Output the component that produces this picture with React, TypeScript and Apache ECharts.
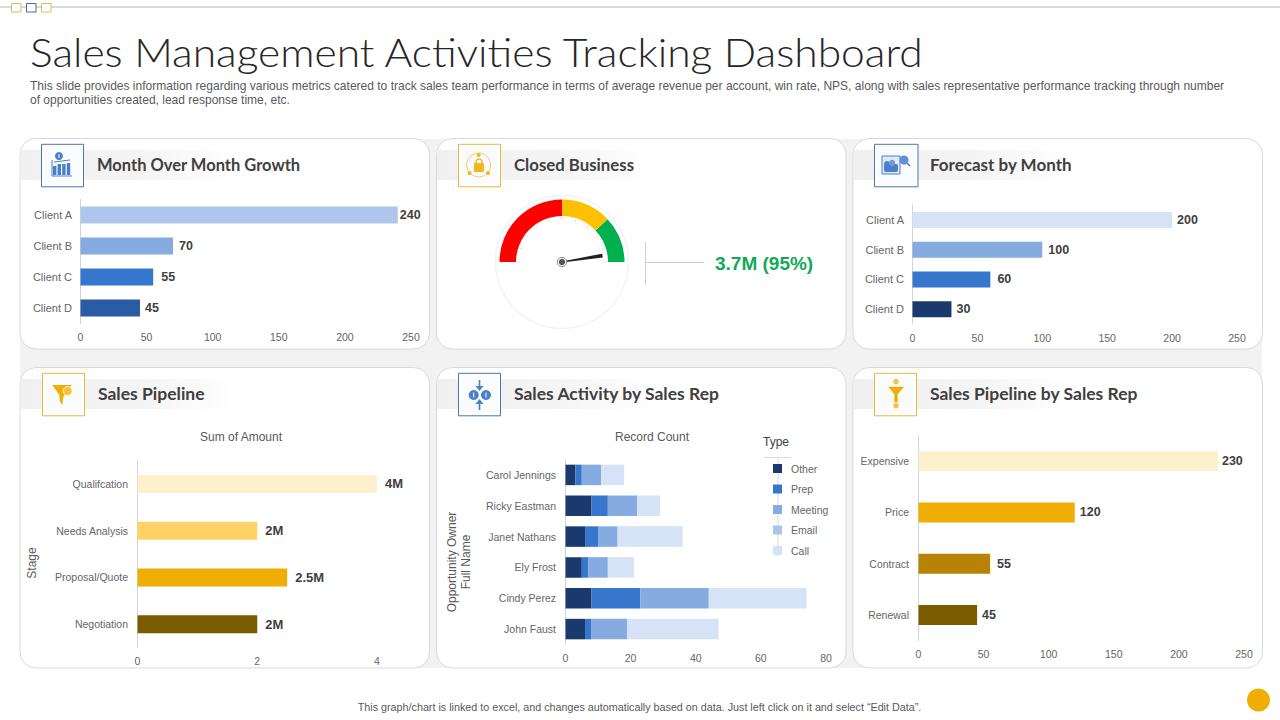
import React, { useEffect, useRef } from "react";
import * as echarts from "echarts";

const clients = ["Client A", "Client B", "Client C", "Client D"];
const momValues = [240, 70, 55, 45];
const momColors = ["#aec6eb", "#86abe0", "#3776cd", "#2a5ba5"];
const forecastValues = [200, 100, 60, 30];
const forecastColors = ["#d6e2f5", "#86abe0", "#3776cd", "#1a3a6e"];
const stages = ["Qualifcation", "Needs Analysis", "Proposal/Quote", "Negotiation"];
const stageValues = [4, 2, 2.5, 2];
const stageColors = ["#fdf0cd", "#ffd265", "#f0ae04", "#7b5b00"];
const reasons = ["Expensive", "Price", "Contract", "Renewal"];
const reasonValues = [230, 120, 55, 45];
const reasonColors = ["#fdf0cd", "#f0ae04", "#b88304", "#7b5b00"];
const reps = ["Carol Jennings", "Ricky Eastman", "Janet Nathans", "Ely Frost", "Cindy Perez", "John Faust"];
const activityTypes = ["Other", "Prep", "Meeting", "Email", "Call"];
const activityColors = ["#1a3a6e", "#3776cd", "#86abe0", "#a9c3ea", "#d6e2f5"];
const otherValues = [3, 8, 6, 5, 8, 6];
const prepValues = [2, 5, 4, 2, 15, 2];
const meetingValues = [6, 9, 6, 6, 21, 11];
const emailValues = [0, 0, 0, 0, 0, 0];
const callValues = [7, 7, 20, 8, 30, 28];
const closedPercent = 95;
const gaugeBands: [number, string][] = [[0.5, "#ff0000"], [0.76, "#ffc000"], [1, "#00b050"]];

const TITLE = "Sales Management Activities Tracking Dashboard";
const SUB1 = "This slide provides information regarding various metrics catered to track sales team performance in terms of average revenue per account, win rate, NPS, along with sales representative performance tracking through number";
const SUB2 = "of opportunities created, lead response time, etc.";
const FOOT = "This graph/chart is linked to excel, and changes automatically based on data. Just left click on it and select \u201CEdit Data\u201D.";

const SANS = "'Liberation Sans', Arial, sans-serif";
const HEAD = "Lato, sans-serif";
const BLUE = "#4a80c8";
const GOLD = "#f0ae04";

function txt(text: string, x: number, y: number, size: number, fill: string, extra: any = {}) {
  return {
    type: "text", x, y, silent: true, z: 5,
    rotation: extra.rotation || 0,
    scaleX: extra.scaleX || 1,
    style: { text, x: 0, y: 0, fill, fontSize: size, fontFamily: extra.family || SANS, fontWeight: extra.weight || "normal", align: extra.align || "left", verticalAlign: "middle" },
  };
}
const rect = (x: number, y: number, w: number, h: number, style: any, r = 0, z = 1) => ({ type: "rect", z, silent: true, shape: { x, y, width: w, height: h, r }, style });
const circ = (cx: number, cy: number, r: number, style: any, z = 3) => ({ type: "circle", z, silent: true, shape: { cx, cy, r }, style });
const poly = (points: number[][], fill: string) => ({ type: "polygon", z: 3, silent: true, shape: { points }, style: { fill } });
const ln = (x1: number, y1: number, x2: number, y2: number, stroke: string, w = 1, z = 3) => ({ type: "line", z, silent: true, shape: { x1, y1, x2, y2 }, style: { stroke, lineWidth: w } });

function card(x: number, y: number, w: number, h: number, bandY: number, title: string, size: number, tx: number, boxX: number, boxY: number, boxW: number, border: string) {
  const band = {
    type: "linear", x: 0, y: 0, x2: 1, y2: 0,
    colorStops: [{ offset: 0, color: "#f0f0f0" }, { offset: 0.55, color: "#f4f4f4" }, { offset: 1, color: "#ffffff" }],
  };
  return [
    rect(x, y, w, h, { fill: "#fff", stroke: "#d9d9d9", lineWidth: 1 }, 16, 1),
    rect(x + 0.5, bandY, 215, 30, { fill: band }, 0, 2),
    rect(boxX, boxY, boxW, 42.5, { fill: "#fff", stroke: border, lineWidth: 1 }, 0, 2),
    rect(boxX + 3, boxY + 3, boxW - 6, 36.5, { fill: "#fafbfd" }, 0, 2),
    txt(title, tx, bandY + 14.5, size, "#404040", { family: HEAD, weight: 700 }),
  ];
}

const icons = [
  // growth chart
  rect(53, 166, 3.4, 9, { fill: BLUE }, 0, 3), rect(57.6, 164, 3.4, 11, { fill: BLUE }, 0, 3),
  rect(62.2, 164, 3.4, 11, { fill: BLUE }, 0, 3), rect(66.8, 163, 3.4, 12, { fill: BLUE }, 0, 3),
  ln(52, 176, 72, 176, BLUE), ln(52, 160, 52, 176, BLUE),
  circ(59, 156, 4, { fill: BLUE }), ln(59, 154, 59, 158, "#fff"),
  ln(54, 162, 70, 160, BLUE),
  // lock
  circ(478.7, 165, 12, { fill: "none", stroke: "#f3cf70", lineWidth: 1 }),
  rect(474, 163, 10, 9, { fill: "#f0b81e" }, 1, 3),
  circ(479, 162, 3, { fill: "none", stroke: "#f0b81e", lineWidth: 1.5 }),
  circ(478.7, 155, 2, { fill: "#f0b81e" }), circ(469.5, 173, 2, { fill: "#f0b81e" }), circ(488, 173, 2, { fill: "#f0b81e" }),
  // window, cloud and magnifier
  rect(882, 156, 18, 18, { fill: "#dfe9f7", stroke: BLUE, lineWidth: 1 }, 0, 3),
  rect(884, 164, 14, 8, { fill: BLUE }, 2, 3),
  circ(887, 164, 3, { fill: BLUE }), circ(892, 163, 3.2, { fill: "#6e9ad6" }),
  circ(904, 160, 4.5, { fill: "#5f90d6" }), ln(907, 163, 910, 166, BLUE, 1.5),
  // funnel with coin
  poly([[52.3, 385], [71.7, 385], [63.3, 396.7], [62.3, 405], [60, 401.7], [59.3, 395]], GOLD),
  circ(67.7, 391, 4.5, { fill: "#f5c33a", stroke: "#fff", lineWidth: 0.8 }),
  // converging dollars
  circ(473.7, 395, 5, { fill: BLUE }), circ(486, 395, 5, { fill: BLUE }),
  ln(473.7, 392.5, 473.7, 397.5, "#fff"), ln(486, 392.5, 486, 397.5, "#fff"),
  ln(479.5, 380, 479.5, 389, BLUE, 1.6), poly([[475.5, 386], [483.5, 386], [479.5, 391]], BLUE),
  ln(479.5, 401, 479.5, 410, BLUE, 1.6), poly([[475.5, 404], [483.5, 404], [479.5, 399]], BLUE),
  // funnel with dots
  poly([[888.3, 386.7], [904, 386.7], [897.7, 394.3], [897.7, 402.3], [894.3, 402.3], [894.3, 394.3]], GOLD),
  circ(896, 381.7, 2.8, { fill: "#f3c34a" }), circ(896, 405.7, 2.8, { fill: "#f3c34a" }),
];

const graphics = [
  ln(0, 7, 1280, 7, "#d9d9d9", 2, 0),
  rect(11.5, 3.5, 9.5, 8.5, { fill: "#fff", stroke: "#d9bf5a", lineWidth: 1 }, 0, 1),
  rect(26.5, 3.5, 9.5, 8.5, { fill: "#fff", stroke: "#3f6fa8", lineWidth: 1 }, 0, 1),
  rect(41.5, 3.5, 9.5, 8.5, { fill: "#fff", stroke: "#d9bf5a", lineWidth: 1 }, 0, 1),
  txt(TITLE, 30, 52, 38.5, "#262626", { family: HEAD, weight: 300, scaleX: 1.105 }),
  txt(SUB1, 30, 86, 12.03, "#595959"),
  txt(SUB2, 30, 100, 12.03, "#595959"),
  rect(20, 139, 1242, 529, { fill: "#f2f2f2" }, 16, 0),
  ...card(20, 138.5, 409.5, 210.5, 150, "Month Over Month Growth", 16.5, 97, 41.5, 144.3, 42, "#4a76a8"),
  ...card(436.5, 138.5, 409.5, 210.5, 150, "Closed Business", 16.8, 514, 458.5, 144.3, 42, "#e5b73b"),
  ...card(853, 138.5, 409.5, 210.5, 150, "Forecast by Month", 17, 930, 874.5, 144.3, 43.5, "#4a76a8"),
  ...card(20, 367.5, 409.5, 300.5, 379, "Sales Pipeline", 17.5, 98, 42.5, 373.3, 42, "#e5b73b"),
  ...card(436.5, 367.5, 409.5, 300.5, 379, "Sales Activity by Sales Rep", 17.5, 514, 458.5, 373.3, 42, "#4a76a8"),
  ...card(853, 367.5, 409.5, 300.5, 379, "Sales Pipeline by Sales Rep", 17.5, 930, 874.5, 373.3, 42, "#e5b73b"),
  ...icons,
  circ(562, 262, 66.5, { fill: "#fff", stroke: "#f3f3f3", lineWidth: 1.5 }, 2),
  circ(562, 262, 4.6, { fill: "#fff", stroke: "#888", lineWidth: 1 }, 20),
  circ(562, 262, 3.2, { fill: "#555" }, 21),
  ln(645.5, 242, 645.5, 285, "#cfcfcf"),
  ln(645.5, 262.5, 704, 262.5, "#cfcfcf"),
  txt("3.7M (95%)", 715, 263, 19, "#0fa958", { weight: "bold" }),
  txt("Sum of Amount", 241, 437, 12, "#595959", { align: "center" }),
  txt("Stage", 32, 563, 12, "#595959", { align: "center", rotation: Math.PI / 2 }),
  txt("Record Count", 652, 437, 12, "#595959", { align: "center" }),
  txt("Opportunity Owner", 452, 562, 12, "#595959", { align: "center", rotation: Math.PI / 2 }),
  txt("Full Name", 466, 562, 12, "#595959", { align: "center", rotation: Math.PI / 2 }),
  txt("Type", 776, 442, 12, "#404040", { align: "center" }),
  ln(764, 457.5, 791, 457.5, "#d9d9d9", 1, 3),
  ln(778, 457.5, 778, 556, "#d9d9d9", 1, 3),
  txt(FOOT, 639.5, 707, 10.75, "#595959", { align: "center" }),
  circ(1258.5, 700, 11.5, { fill: "#f0ae04" }),
];

const grids = [
  { left: 80.5, top: 199.5, width: 330.5, height: 124 },
  { left: 912.5, top: 205, width: 324.5, height: 119 },
  { left: 137.5, top: 460.5, width: 239.5, height: 187 },
  { left: 565.5, top: 459.5, width: 260.5, height: 185 },
  { left: 918.5, top: 435.5, width: 325.5, height: 205 },
];
const xAxisMax = [250, 250, 4, 80, 250];
const xAxisStep = [50, 50, 2, 20, 50];
const yCats = [clients, clients, stages, reps, reasons];
const yLabelSize = [11, 11, 10.5, 10.5, 10.5];
const yLabelMargin = [8.5, 8.5, 9.5, 9.5, 9.5];

function barSeries(i: number, values: number[], colors: string[], barWidth: number, distances: number[], size: number, fmt?: (p: any) => string) {
  return {
    type: "bar", z: 12, xAxisIndex: i, yAxisIndex: i, barWidth,
    data: values.map((value, k) => ({ value, itemStyle: { color: colors[k] }, label: { distance: distances[k] } })),
    label: { show: true, position: "right", color: "#404040", fontFamily: SANS, fontWeight: "bold", fontSize: size, formatter: fmt || "{c}" },
  };
}

const option: any = {
  animation: false,
  backgroundColor: "#ffffff",
  textStyle: { fontFamily: SANS },
  graphic: { elements: graphics },
  grid: grids,
  xAxis: grids.map((_, i) => ({
    type: "value", gridIndex: i, z: 10, min: 0, max: xAxisMax[i], interval: xAxisStep[i],
    splitLine: { show: false }, axisLine: { show: false }, axisTick: { show: false },
    axisLabel: { color: "#666666", fontSize: 10.5, margin: 8, fontFamily: SANS },
  })),
  yAxis: grids.map((_, i) => ({
    type: "category", gridIndex: i, z: 10, inverse: true, data: yCats[i],
    axisLine: { show: true, lineStyle: { color: "#d4d4d4" } }, axisTick: { show: false },
    axisLabel: { color: "#666666", fontSize: yLabelSize[i], margin: yLabelMargin[i], fontFamily: SANS },
  })),
  legend: {
    orient: "vertical", left: 768, top: 458, itemWidth: 9, itemHeight: 9, itemGap: 9.5, z: 10,
    icon: "rect", selectedMode: false, data: activityTypes,
    textStyle: { color: "#666666", fontSize: 10.5, fontFamily: SANS, padding: [0, 0, 0, 4] },
  },
  series: [
    barSeries(0, momValues, momColors, 17, [2, 6, 8, 5], 12.5),
    barSeries(1, forecastValues, forecastColors, 16, [5, 6, 7, 5], 12.5),
    barSeries(2, stageValues, stageColors, 18, [8, 8, 8, 8], 13, (p: any) => p.value + "M"),
    barSeries(4, reasonValues, reasonColors, 20, [4, 5, 7, 5], 12.5),
    ...[otherValues, prepValues, meetingValues, emailValues, callValues].map((data, k) => ({
      type: "bar", z: 12, name: activityTypes[k], stack: "activity", xAxisIndex: 3, yAxisIndex: 3, barWidth: 20.5,
      itemStyle: { color: activityColors[k] }, data,
    })),
    {
      type: "gauge", center: [562, 262], radius: 62.5, startAngle: 180, endAngle: 0, min: 0, max: 100,
      splitNumber: 10, z: 12,
      axisLine: { lineStyle: { width: 16.5, color: gaugeBands } },
      axisTick: { show: false },
      splitLine: { length: 3, distance: 1, lineStyle: { color: "#dddddd", width: 1 } },
      axisLabel: { show: false }, title: { show: false }, detail: { show: false },
      pointer: { icon: "path://M0 0 L10 0 L6.5 100 L3.5 100 Z", length: 41, width: 4, offsetCenter: [0, 0], itemStyle: { color: "#222222" } },
      anchor: { show: false },
      data: [{ value: closedPercent }],
    },
  ],
};

export default function App() {
  const ref = useRef<HTMLDivElement>(null);
  useEffect(() => {
    document.body.style.margin = "0";
    const chart = echarts.init(ref.current!, undefined, { renderer: "svg" });
    chart.setOption(option);
    return () => chart.dispose();
  }, []);
  return <div ref={ref} style={{ width: 1280, height: 720 }} />;
}
